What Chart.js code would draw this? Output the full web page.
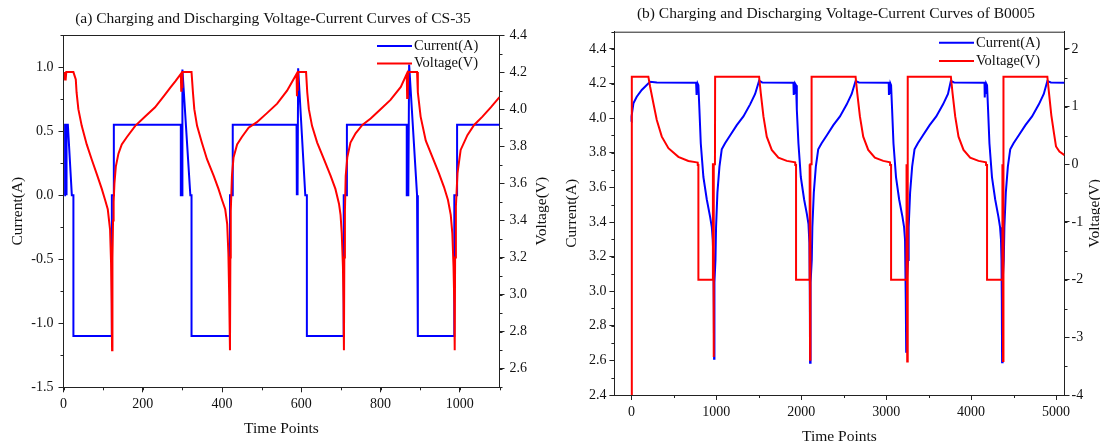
<!DOCTYPE html>
<html>
<head>
<meta charset="utf-8">
<script src="https://cdn.jsdelivr.net/npm/chart.js@4.4.1/dist/chart.umd.min.js"></script>
<style>
  body { margin: 0; background: #fff; }
  .wrap { position: relative; width: 1100px; height: 445px; }
  canvas { position: absolute; top: 0; }
</style>
</head>
<body>
<div class="wrap">
  <canvas id="chart-a" width="550" height="445" style="left:0"></canvas>
  <canvas id="chart-b" width="550" height="445" style="left:550px"></canvas>
</div>
<script>
// Tick labels
const aTicksX = [0, 200, 400, 600, 800, 1000];
const aTicksCur = [-1.5, -1.0, -0.5, 0.0, 0.5, 1.0];
const aTicksVol = [2.6, 2.8, 3.0, 3.2, 3.4, 3.6, 3.8, 4.0, 4.2, 4.4];
const bTicksX = [0, 1000, 2000, 3000, 4000, 5000];
const bTicksCur = [2.4, 2.6, 2.8, 3.0, 3.2, 3.4, 3.6, 3.8, 4.0, 4.2, 4.4];
const bTicksVol = [-4, -3, -2, -1, 0, 1, 2];

const seriesNames = ['Current(A)', 'Voltage(V)'];

// (a) CS-35 : [time point, value]
const aCurrent = [
  [2, 0], [4, 0], [4, 0.55], [7, 0.55], [7, 0], [8, 0], [8, 0.55], [11, 0.55], [21, 0], [25, 0], [25, -1.1],
  [122, -1.1], [122, 0], [127, 0], [127, 0.55], [296, 0.55], [296, 0], [297, 0], [297, 0.55], [298, 0.55], [298, 0], [299, 0],
  [300, 0.98], [320, 0], [323, 0], [323, -1.1], [420, -1.1], [420, 0], [427, 0], [427, 0.55],
  [588, 0.55], [588, 0], [589, 0], [589, 0.55], [590, 0.55], [590, 0], [591, 0], [592, 0.99], [610, 0], [614, 0], [614, -1.1],
  [707, -1.1], [707, 0], [715, 0], [715, 0.55], [866, 0.55], [866, 0], [867, 0], [867, 0.55], [868, 0.55], [868, 0], [870, 0],
  [872, 1.02], [892, 0], [894, 0], [894, -1.1], [986, -1.1], [986, 0], [993, 0], [993, 0.55], [1100, 0.55]
];
const aVoltage = [
  [2, 4.16], [3, 4.2], [4, 4.16], [5, 4.2], [6, 4.16], [7, 4.2], [25, 4.2],
  [31, 4.16], [33, 4.09], [37.5, 4.0], [46, 3.91], [58.6, 3.81], [71, 3.73], [84, 3.65], [96.6, 3.57], [105, 3.51],
  [111.7, 3.46], [117.5, 3.35], [120, 3.17], [121.5, 2.95], [122.5, 2.7],
  [123.5, 3.2], [125, 3.4], [126.5, 3.5], [128.5, 3.6], [132, 3.69], [138.6, 3.76], [147, 3.81], [160, 3.85], [181, 3.91],
  [206, 3.96], [231, 4.01], [256.6, 4.08], [269, 4.115], [282, 4.15], [296, 4.19], [297, 4.1], [298, 4.19], [299, 4.12],
  [300, 4.2], [323, 4.2],
  [326.6, 4.09], [330, 4.0], [337, 3.91], [349, 3.82], [362, 3.73], [379, 3.64], [391, 3.57], [400, 3.51], [408, 3.46],
  [413, 3.38], [416, 3.22], [418, 3.0], [420, 2.7],
  [421, 3.2], [422, 3.45], [425, 3.64], [429, 3.74], [438, 3.81], [450, 3.85], [467, 3.9], [488, 3.93], [514, 3.98],
  [539, 4.03], [564, 4.1], [588, 4.19], [589, 4.07], [590, 4.19], [591, 4.1], [592, 4.2], [612, 4.2],
  [615, 4.09], [619, 4.0], [627, 3.91], [640, 3.82], [657, 3.73], [674, 3.64], [686, 3.57], [695, 3.49], [699, 3.43],
  [702, 3.33], [705, 3.15], [706.5, 2.95], [707.5, 2.7],
  [708.5, 3.2], [710, 3.45], [712, 3.64], [716, 3.74], [724, 3.82], [737, 3.87], [754, 3.915], [775, 3.95], [800, 4.0],
  [825, 4.05], [851, 4.12], [866, 4.19], [867, 4.06], [868, 4.19], [869, 4.1], [870, 4.2], [892, 4.2],
  [894, 4.09], [901, 3.96], [914, 3.83], [931, 3.74], [947, 3.655], [960, 3.58], [970, 3.51], [977, 3.43], [981, 3.33],
  [984, 3.15], [986, 2.95], [987, 2.7],
  [988, 3.2], [990, 3.475], [994, 3.655], [1002, 3.78], [1019, 3.86], [1036, 3.915], [1057, 3.96], [1078, 4.01], [1100, 4.065]
];

// (b) B0005 : [time point, value]
const bCurrent = [
  [0, 3.98], [2, 4.01], [24, 4.086], [63, 4.124], [122, 4.163], [181, 4.192], [220, 4.21], [300, 4.207], [762, 4.205],
  [764, 4.134], [768, 4.2], [772, 4.14], [780, 4.2], [789, 4.19],
  [801, 4.05], [817, 3.855], [848, 3.66], [888, 3.53], [927, 3.43], [947, 3.37], [958, 3.3], [966, 3.18], [971, 2.9], [974, 2.61],
  [978, 3.05], [990, 3.18], [997, 3.37], [1013, 3.57], [1037, 3.72], [1064, 3.82], [1103, 3.855], [1162, 3.9], [1241, 3.96],
  [1319, 4.01], [1398, 4.08], [1457, 4.14], [1504, 4.217], [1540, 4.207], [1908, 4.205], [1910, 4.134], [1914, 4.2],
  [1918, 4.14], [1928, 4.2], [1939, 4.19],
  [1948, 4.05], [1967, 3.855], [1995, 3.66], [2034, 3.53], [2065, 3.45], [2085, 3.39], [2096, 3.28], [2101, 3.0], [2104, 2.587],
  [2110, 3.05], [2124, 3.18], [2131, 3.37], [2148, 3.57], [2172, 3.72], [2200, 3.82], [2240, 3.855], [2300, 3.9], [2378, 3.96],
  [2456, 4.01], [2536, 4.08], [2594, 4.14], [2640, 4.215], [2680, 4.207], [3030, 4.205], [3033, 4.134], [3037, 4.2],
  [3041, 4.14], [3050, 4.2], [3058, 4.19],
  [3070, 4.05], [3086, 3.855], [3116, 3.66], [3153, 3.53], [3192, 3.43], [3211, 3.37], [3222, 3.3], [3229, 3.18], [3233, 2.95], [3236, 2.65],
  [3242, 3.05], [3258, 3.18], [3265, 3.37], [3282, 3.57], [3306, 3.72], [3334, 3.82], [3373, 3.855], [3432, 3.9], [3512, 3.96],
  [3590, 4.01], [3670, 4.08], [3728, 4.14], [3762, 4.215], [3800, 4.207], [4158, 4.205], [4161, 4.12], [4165, 4.2],
  [4169, 4.14], [4178, 4.2], [4188, 4.19],
  [4200, 4.05], [4216, 3.855], [4246, 3.66], [4284, 3.53], [4322, 3.43], [4341, 3.37], [4352, 3.3], [4358, 3.18], [4362, 2.95], [4365, 2.59],
  [4371, 3.05], [4385, 3.18], [4392, 3.37], [4409, 3.57], [4433, 3.72], [4461, 3.82], [4500, 3.855], [4560, 3.9], [4640, 3.96],
  [4718, 4.01], [4798, 4.08], [4856, 4.14], [4898, 4.215], [4940, 4.207], [5100, 4.205]
];
const bVoltage = [
  [3, -4], [5, 1.52], [200, 1.52], [220, 1.35], [259, 1.06], [299, 0.77], [358, 0.48], [436, 0.28], [553, 0.13], [671, 0.057],
  [770, 0.034], [780, 0.03], [782, -0.01], [789, -0.01], [789, -2], [958, -2], [960, 0], [964, 0], [968, -3.34], [972, 0],
  [984, 0], [986, 1.52],
  [1504, 1.52], [1524, 1.23], [1555, 0.83], [1594, 0.48], [1653, 0.25], [1731, 0.115], [1830, 0.06], [1928, 0.035],
  [1930, -0.01], [1939, -0.01], [1939, -2], [2096, -2], [2098, 0], [2101, 0], [2104, -3.39], [2108, 0], [2118, 0], [2122, 1.52],
  [2640, 1.52], [2660, 1.23], [2691, 0.83], [2730, 0.48], [2789, 0.25], [2867, 0.115], [2966, 0.06], [3045, 0.035],
  [3047, -0.01], [3058, -0.01], [3058, -2], [3236, -2], [3238, 0], [3242, 0], [3248, -3.42], [3252, 0], [3254, 0], [3256, 1.52],
  [3762, 1.52], [3782, 1.23], [3813, 0.83], [3852, 0.48], [3911, 0.25], [3989, 0.115], [4088, 0.06], [4175, 0.035],
  [4177, -0.01], [4188, -0.01], [4188, -2], [4365, -2], [4367, 0], [4371, 0], [4376, -3.41], [4380, 0], [4381, 0], [4383, 1.52],
  [4898, 1.52], [4918, 1.23], [4945, 0.85], [4975, 0.55], [5000, 0.31], [5040, 0.22], [5100, 0.16]
];

const SERIF = '"Liberation Serif", "Times New Roman", serif';
const AXIS = '#222';
const BLUE = '#0000ff';
const RED = '#ff0000';

// Frame top, minor ticks, titles and legend
const decor = {
  id: 'decor',
  afterDraw(chart, args, o) {
    const { ctx, chartArea: ca } = chart;
    ctx.save();
    ctx.strokeStyle = AXIS;
    ctx.lineWidth = 1;
    ctx.beginPath();
    ctx.moveTo(ca.left, ca.top + 0.5);
    ctx.lineTo(ca.right, ca.top + 0.5);
    ctx.stroke();

    // minor ticks
    Object.entries(o.minor).forEach(([id, step]) => {
      const s = chart.scales[id];
      const k0 = Math.ceil(s.min / step - 1e-9);
      const k1 = Math.floor(s.max / step + 1e-9);
      ctx.beginPath();
      for (let k = k0; k <= k1; k++) {
        const p = Math.round(s.getPixelForValue(k * step)) + 0.5;
        if (s.isHorizontal()) {
          ctx.moveTo(p, s.top); ctx.lineTo(p, s.top + 3);
        } else if (s.position === 'left') {
          ctx.moveTo(s.right, p); ctx.lineTo(s.right - 3, p);
        } else {
          ctx.moveTo(s.left, p); ctx.lineTo(s.left + 3, p);
        }
      }
      ctx.stroke();
    });

    ctx.fillStyle = '#111';
    ctx.textAlign = 'center';
    ctx.textBaseline = 'middle';
    ctx.font = '15.5px ' + SERIF;
    ctx.fillText(o.title, o.titleX, o.titleY);
    ctx.fillText('Time Points', (ca.left + ca.right) / 2, o.xTitleY);

    const midY = (ca.top + ca.bottom) / 2;
    [[o.leftTitleX, seriesNames[0]], [o.rightTitleX, seriesNames[1]]].forEach(([x, t]) => {
      ctx.save();
      ctx.translate(x, midY);
      ctx.rotate(-Math.PI / 2);
      ctx.fillText(t, 0, 0);
      ctx.restore();
    });

    // legend
    ctx.textAlign = 'left';
    ctx.font = '14.5px ' + SERIF;
    chart.data.datasets.forEach((ds, i) => {
      const y = o.legendY + i * o.legendGap;
      ctx.strokeStyle = ds.borderColor;
      ctx.lineWidth = 2;
      ctx.beginPath();
      ctx.moveTo(o.legendX, y);
      ctx.lineTo(o.legendX + 35, y);
      ctx.stroke();
      ctx.fillText(ds.label, o.legendX + 37, y);
    });
    ctx.restore();
  }
};

function axis(position, min, max, ticks, size, fmt, pad) {
  return {
    type: 'linear',
    position,
    min,
    max,
    afterBuildTicks: (s) => { s.ticks = ticks.map((v) => ({ value: v })); },
    afterFit: (s) => {
      if (s.isHorizontal()) s.height = size; else s.width = size;
    },
    grid: { drawOnChartArea: false, drawTicks: true, tickLength: 5, color: AXIS, tickColor: AXIS, tickWidth: 1 },
    border: { display: true, color: AXIS, width: 1 },
    ticks: {
      autoSkip: false,
      maxRotation: 0,
      padding: pad,
      color: '#111',
      font: { family: SERIF, size: 14 },
      callback: fmt
    }
  };
}

function lineSet(label, color, pairs, axisId, order) {
  return {
    label,
    data: pairs.map(([x, y]) => ({ x, y })),
    yAxisID: axisId,
    borderColor: color,
    backgroundColor: color,
    borderWidth: 2,
    pointRadius: 0,
    tension: 0,
    fill: false,
    order
  };
}

const oneDec = (v) => Number(v).toFixed(1);
const noDec = (v) => String(Math.round(v));

new Chart(document.getElementById('chart-a'), {
  type: 'line',
  data: {
    datasets: [
      lineSet(seriesNames[0], BLUE, aCurrent, 'yI', 2),
      lineSet(seriesNames[1], RED, aVoltage, 'yV', 1)
    ]
  },
  options: {
    responsive: false,
    animation: false,
    events: [],
    layout: { padding: { top: 35, left: 0, right: 0, bottom: 0 } },
    plugins: {
      legend: { display: false },
      tooltip: { enabled: false },
      decor: {
        minor: { x: 100, yI: 0.25, yV: 0.1 },
        title: '(a) Charging and Discharging Voltage-Current Curves of CS-35',
        titleX: 273, titleY: 19, xTitleY: 429,
        leftTitleX: 18, rightTitleX: 542,
        legendX: 377, legendY: 46, legendGap: 17.6
      }
    },
    scales: {
      x: axis('bottom', 0, 1100, aTicksX, 57.7, noDec, 4),
      yI: axis('left', -1.5, 1.25, aTicksCur, 63.5, oneDec, 5),
      yV: axis('right', 2.5, 4.4, aTicksVol, 50.5, oneDec, 5)
    }
  },
  plugins: [decor]
});

new Chart(document.getElementById('chart-b'), {
  type: 'line',
  data: {
    datasets: [
      lineSet(seriesNames[0], BLUE, bCurrent, 'yI', 2),
      lineSet(seriesNames[1], RED, bVoltage, 'yV', 1)
    ]
  },
  options: {
    responsive: false,
    animation: false,
    events: [],
    layout: { padding: { top: 31.7, left: 0, right: 0, bottom: 0 } },
    plugins: {
      legend: { display: false },
      tooltip: { enabled: false },
      decor: {
        minor: { x: 500, yI: 0.1, yV: 0.5 },
        title: '(b) Charging and Discharging Voltage-Current Curves of B0005',
        titleX: 286, titleY: 14, xTitleY: 437,
        leftTitleX: 22, rightTitleX: 545,
        legendX: 389, legendY: 42.7, legendGap: 18.3
      }
    },
    scales: {
      x: axis('bottom', -200, 5100, bTicksX, 50, noDec, 4),
      yI: axis('left', 2.4, 4.5, bTicksCur, 64.4, oneDec, 3),
      yV: axis('right', -4, 2.3, bTicksVol, 35.5, noDec, 2)
    }
  },
  plugins: [decor]
});
</script>
</body>
</html>
